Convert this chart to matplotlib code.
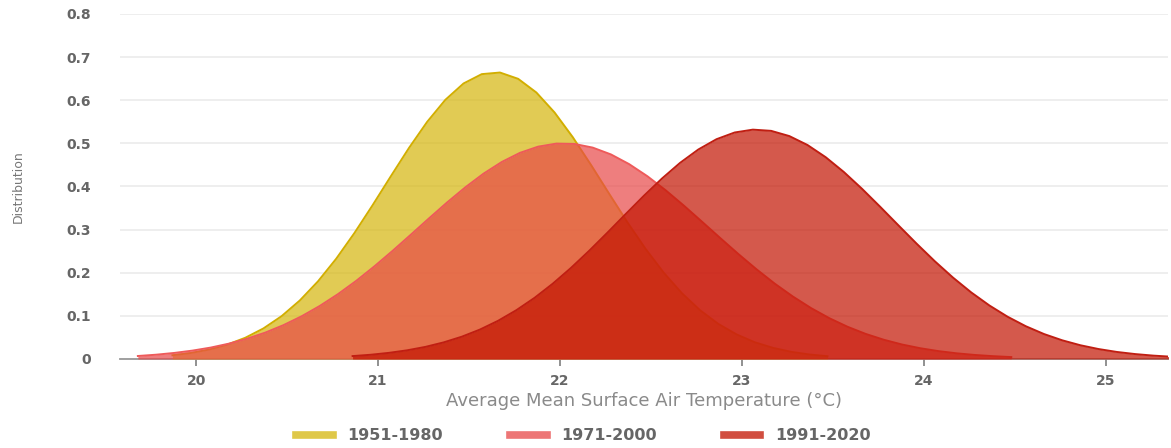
import numpy as np
import matplotlib
matplotlib.use("Agg")
import matplotlib.pyplot as plt
from matplotlib.lines import Line2D

labels = ["1951-1980", "1971-2000", "1991-2020"]

t_start_1951 = 19.87
dist_1951 = [0.0086, 0.0138, 0.0217, 0.0331, 0.0491, 0.0708, 0.0993, 0.1356, 0.1800,
             0.2324, 0.2919, 0.3565, 0.4235, 0.4893, 0.5499, 0.6010, 0.6389, 0.6605,
             0.6642, 0.6496, 0.6179, 0.5716, 0.5144, 0.4502, 0.3832, 0.3172, 0.2554,
             0.2000, 0.1524, 0.1129, 0.0813, 0.0570, 0.0388, 0.0258, 0.0166, 0.0104,
             0.0064]

t_start_1971 = 19.68
dist_1971 = [0.0069, 0.0099, 0.0140, 0.0194, 0.0264, 0.0355, 0.0470, 0.0611, 0.0784,
             0.0990, 0.1230, 0.1504, 0.1811, 0.2148, 0.2507, 0.2881, 0.3260, 0.3631,
             0.3981, 0.4298, 0.4568, 0.4780, 0.4924, 0.4994, 0.4986, 0.4901, 0.4743,
             0.4518, 0.4238, 0.3914, 0.3558, 0.3184, 0.2806, 0.2434, 0.2079, 0.1747,
             0.1447, 0.1179, 0.0946, 0.0747, 0.0581, 0.0445, 0.0335, 0.0249, 0.0182,
             0.0131, 0.0093, 0.0065, 0.0044]

t_start_1991 = 20.86
dist_1991 = [0.0067, 0.0098, 0.0142, 0.0201, 0.0280, 0.0384, 0.0516, 0.0682,
             0.0886, 0.1131, 0.1417, 0.1745, 0.2110, 0.2507, 0.2926, 0.3356, 0.3780,
             0.4183, 0.4548, 0.4857, 0.5096, 0.5252, 0.5318, 0.5290, 0.5169, 0.4962,
             0.4679, 0.4335, 0.3945, 0.3527, 0.3098, 0.2673, 0.2265, 0.1886, 0.1543,
             0.1240, 0.0979, 0.0759, 0.0578, 0.0433, 0.0318, 0.0230, 0.0163, 0.0114,
             0.0078, 0.0052]

x_ticks = [20, 21, 22, 23, 24, 25]
y_ticks = [0, 0.1, 0.2, 0.3, 0.4, 0.5, 0.6, 0.7, 0.8]
y_ticklabels = ["0", "0.1", "0.2", "0.3", "0.4", "0.5", "0.6", "0.7", "0.8"]

fill_colors = ["#D5B60C", "#E84848", "#C21300"]
edge_colors = ["#D2AE00", "#EE5A5A", "#C01E12"]

series = [
    (np.arange(len(dist_1951)) * 0.1 + t_start_1951, dist_1951),
    (np.arange(len(dist_1971)) * 0.1 + t_start_1971, dist_1971),
    (np.arange(len(dist_1991)) * 0.1 + t_start_1991, dist_1991),
]

fig = plt.figure(figsize=(11.71, 4.48), dpi=100)
ax = fig.add_axes([0.1025, 0.1987, 0.8949, 0.7701])

for i, ((t, d), fc, ec) in enumerate(zip(series, fill_colors, edge_colors)):
    ax.fill_between(t, 0, d, color=fc, alpha=0.7, linewidth=0, zorder=2 + i)
    ax.plot(t, d, color=ec, linewidth=1.4, zorder=2 + i,
            solid_joinstyle="round", antialiased=True)

ax.set_xlim(19.582, 25.341)
ax.set_ylim(0, 0.8)
ax.set_yticks(y_ticks)
ax.set_yticklabels(y_ticklabels)
ax.set_xticks(x_ticks)
ax.set_xticklabels([str(v) for v in x_ticks])
ax.yaxis.grid(True, color="#EDEDED", linewidth=1.3)
ax.set_axisbelow(True)

for s in ["top", "right", "left"]:
    ax.spines[s].set_visible(False)
ax.spines["bottom"].set_color("#999999")
ax.spines["bottom"].set_linewidth(1.3)
ax.spines["bottom"].set_zorder(1.5)

ax.tick_params(axis="y", length=0, pad=21, labelsize=10, labelcolor="#666666")
ax.tick_params(axis="x", length=5, width=1.3, color="#888888", pad=6,
               labelsize=10, labelcolor="#666666")
for lab in ax.get_xticklabels() + ax.get_yticklabels():
    lab.set_fontweight("bold")

ax.set_xlabel("Average Mean Surface Air Temperature (°C)", fontsize=13,
              color="#8A8A8A", labelpad=3)
fig.text(0.016, 0.583, "Distribution", rotation=90, ha="center", va="center",
         fontsize=9, color="#777777",
         family=["Liberation Sans Narrow", "DejaVu Sans"])

handles = [Line2D([0], [0], color=c, alpha=0.75, linewidth=5.5) for c in fill_colors]
leg = fig.legend(handles, labels, loc="center", bbox_to_anchor=(0.498, 0.027), ncol=3,
                 frameon=False, fontsize=11.5, handlelength=2.3,
                 columnspacing=4.2, handletextpad=0.9)
for txt in leg.get_texts():
    txt.set_color("#666666")
    txt.set_fontweight("bold")

fig.savefig("out.png", dpi=100)
